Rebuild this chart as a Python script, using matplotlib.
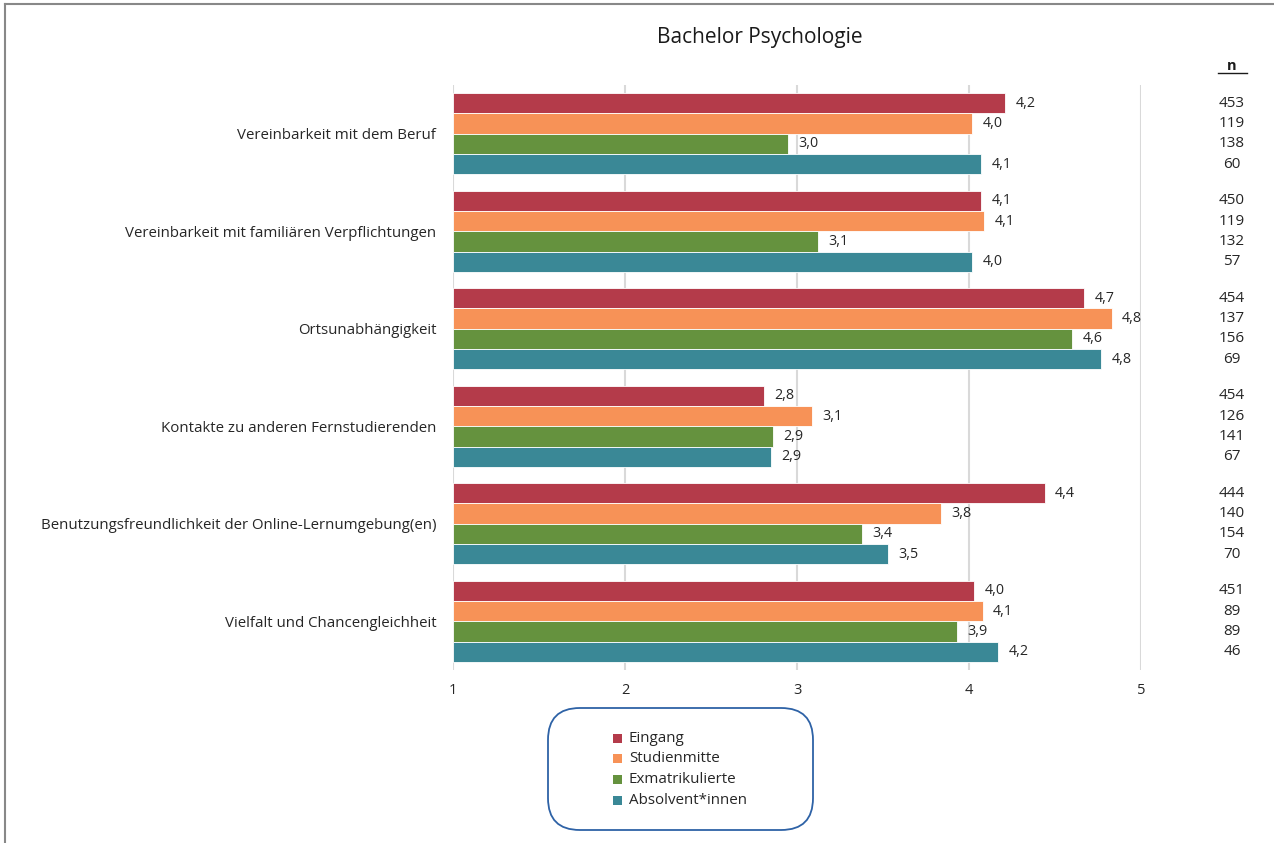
import matplotlib
matplotlib.use("Agg")
import matplotlib.pyplot as plt
from matplotlib.patches import FancyBboxPatch
from matplotlib.lines import Line2D
import numpy as np

plt.rcParams["font.family"] = ["Open Sans", "DejaVu Sans"]

# ── Daten ─────────────────────────────────────────────────────────────
kategorien = [
    "Vereinbarkeit mit dem Beruf",
    "Vereinbarkeit mit familiären Verpflichtungen",
    "Ortsunabhängigkeit",
    "Kontakte zu anderen Fernstudierenden",
    "Benutzungsfreundlichkeit der Online-Lernumgebung(en)",
    "Vielfalt und Chancengleichheit",
]
gruppen = ["Eingang", "Studienmitte", "Exmatrikulierte", "Absolvent*innen"]
farben = ["#B43B4A", "#F79257", "#65923E", "#3A8896"]

eingang      = [4.21, 4.07, 4.67, 2.81, 4.44, 4.03]
studienmitte = [4.02, 4.09, 4.83, 3.09, 3.84, 4.08]
exmatrik     = [2.95, 3.12, 4.60, 2.86, 3.38, 3.93]
absolvent    = [4.07, 4.02, 4.77, 2.85, 3.53, 4.17]

n_eingang      = [453, 450, 454, 454, 444, 451]
n_studienmitte = [119, 119, 137, 126, 140, 89]
n_exmatrik     = [138, 132, 156, 141, 154, 89]
n_absolvent    = [60, 57, 69, 67, 70, 46]

werte = [eingang, studienmitte, exmatrik, absolvent]
n_werte = [n_eingang, n_studienmitte, n_exmatrik, n_absolvent]

# ── Figur ─────────────────────────────────────────────────────────────
fig = plt.figure(figsize=(12.74, 8.43), dpi=100)
W, H = 1274, 843
ax = fig.add_axes([453 / W, 1 - 670 / H, (1141 - 453) / W, (670 - 85) / H])

h = 0.208
y = np.arange(len(kategorien))
for k, (serie, farbe) in enumerate(zip(werte, farben)):
    pos = y + (k - 1.5) * h
    ax.barh(pos, np.array(serie) - 1, left=1, height=h, color=farbe,
            edgecolor="white", linewidth=0.6, zorder=3)
    for p, v in zip(pos, serie):
        ax.text(v + 0.06, p, f"{v:.1f}".replace(".", ","), va="center",
                ha="left", fontsize=10.3, color="#262626")

ax.set_xlim(1, 5)
ax.set_ylim(len(kategorien) - 0.5, -0.5)
ax.set_xticks([1, 2, 3, 4, 5])
ax.set_xticklabels(["1", "2", "3", "4", "5"], fontsize=10.5, color="#262626")
ax.set_yticks(y)
ax.set_yticklabels(kategorien, fontsize=10.8, color="#262626")
ax.tick_params(length=0, axis="y", pad=12)
ax.tick_params(length=0, axis="x", pad=9)
ax.grid(axis="x", color="#D9D9D9", linewidth=1.5, zorder=0)
for s in ax.spines.values():
    s.set_visible(False)

fig.text(760 / W, 1 - 38 / H, "Bachelor Psychologie", ha="center",
         va="center", fontsize=15, color="#1a1a1a")

# n-Spalte
fig.text(1232 / W, 1 - 66 / H, "n", ha="center", va="center",
         fontsize=10.5, fontweight="bold", color="#1a1a1a")
fig.add_artist(Line2D([1218 / W, 1247 / W], [1 - 73 / H, 1 - 73 / H],
                      color="#1a1a1a", linewidth=1))
for i in range(len(kategorien)):
    for k in range(4):
        py = ax.transData.transform((1, y[i] + (k - 1.5) * h))[1]
        fig.text(1232 / W, py / H, str(n_werte[k][i]), ha="center",
                 va="center", fontsize=11, color="#262626")

# Legende
box = FancyBboxPatch((548 / W, 1 - 830 / H), (813 - 548) / W, (830 - 708) / H,
                     boxstyle="round,pad=0,rounding_size=0.025",
                     transform=fig.transFigure, facecolor="white",
                     edgecolor="#2E62A6", linewidth=1.3,
                     mutation_aspect=W / H)
fig.add_artist(box)
for k, (g, farbe) in enumerate(zip(gruppen, farben)):
    yy = 1 - (738 + k * 20.7) / H
    fig.add_artist(plt.Rectangle((617 / W - 4.5 / W, yy - 4.5 / H), 9 / W, 9 / H,
                                 transform=fig.transFigure, facecolor=farbe,
                                 edgecolor="none"))
    fig.text(629 / W, yy, g, ha="left", va="center", fontsize=10.9,
             color="#262626")

# Rahmen oben und links
fig.add_artist(Line2D([4.5 / W, 1], [1 - 3.5 / H, 1 - 3.5 / H],
                      color="#888888", linewidth=1.5))
fig.add_artist(Line2D([4.5 / W, 4.5 / W], [0, 1 - 3.5 / H],
                      color="#888888", linewidth=1.5))

fig.savefig("out.png", dpi=100)
